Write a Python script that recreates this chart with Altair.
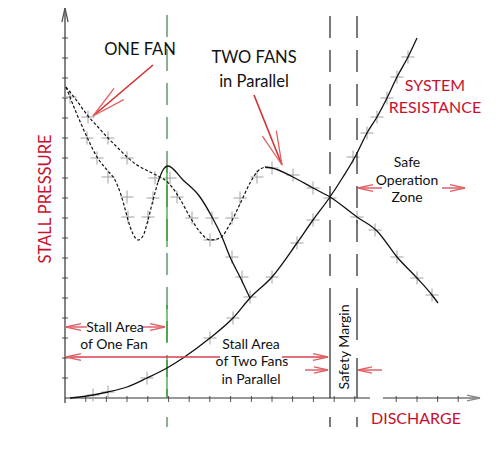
import math
import altair as alt
import pandas as pd

# ---------------- data (discharge q, pressure p) ----------------
one_fan_dash_q = [0.25, 2.75, 5.5, 8, 10.5, 12.5, 13.75, 14.75, 15.75, 17, 18.25, 19.5, 20.75, 22, 23.25]
one_fan_dash_p = [77.75, 71.5, 65.25, 60.25, 57, 54.5, 51.5, 48.25, 44.5, 41, 39.5, 40.5, 44.5, 49.5, 54]
one_fan_solid_q = [23.25, 24.5, 25.75, 29.5, 33.75, 36.75, 39.25, 41.25, 43.75, 46.25]
one_fan_solid_p = [54, 57, 58, 54.5, 50.25, 45.25, 40.25, 35.25, 30.25, 25]

two_fans_dash_q = [0.25, 3, 5.75, 8.25, 10.75, 13.25, 15.5, 18, 20.75, 23.25, 25, 26.75, 28.75,
                   31.25, 33.75, 36.25, 38.75, 41.25, 43.75, 46.25, 48, 50]
two_fans_dash_p = [77.75, 74.25, 70.5, 67.75, 65, 62.5, 60.25, 58.25, 56.75, 55.5, 54.5, 52.75, 49.75,
                   45.25, 41.5, 39.5, 40, 43.5, 48.5, 53.75, 56.5, 57.75]
two_fans_solid_q = [50, 51.75, 57, 62, 66.25, 73, 78, 83, 88, 91.75, 93.25]
two_fans_solid_p = [57.75, 57.5, 55.25, 52.5, 50.25, 45.25, 41.75, 35.25, 30, 25.75, 23.75]

system_q = [1.25, 7, 10.75, 15.5, 20.5, 25.5, 29.5, 36.25, 42, 46.25, 51.75, 58, 62, 66.25,
            69.5, 72.5, 75.5, 78, 80.5, 83, 85.75, 88]
system_p = [0, 0.75, 1.5, 2.75, 5, 7.5, 10, 15, 20, 25, 30.25, 38.75, 44.5, 50.25,
            55.25, 60.25, 66.25, 70.25, 75, 80.25, 85.25, 90]

cross_q = [1.25, 5.75, 5.5, 10.75, 8, 15.5, 10.75, 15.5, 15.75, 20.75, 22, 26.25, 22.5, 28, 31.75,
           36.75, 36.25, 41.75, 43.75, 48, 51.75, 57, 62, 66.25, 73, 77.5, 83, 88, 91.75, 41.75,
           44.25, 46.25, 51.75, 58, 62, 72, 75.5, 78, 80.5, 83, 85.75, 7, 10.75, 20.5, 36.25, 42]
cross_p = [75.25, 70.25, 65, 65, 60, 60, 55.25, 50.25, 45.25, 45.25, 50, 55, 55, 50.25, 45,
           45, 39.5, 45, 50, 55.25, 57.5, 55.75, 52.5, 50, 45.25, 42, 35.25, 30, 25.75, 35.25,
           30.25, 25.25, 30.25, 38.75, 44.5, 60.25, 66.25, 70.25, 75, 80.25, 85.25, 0.75, 1.5, 5, 15, 20]

# vertical marker lines (stall limits / safety margin)
marker_q = [25.5, 66.25, 73]
marker_colors = ["#3f7f3f", "#222222", "#222222"]

# arrows: tail -> tip
arrow_tail_q = [22, 47.25, 5.5, 19.25, 38.75, 54.25, 60, 79.25, 79.25, 94.25]
arrow_tail_p = [83.25, 75.75, 17.75, 17.75, 10.25, 10.25, 7, 7, 52.5, 52.5]
arrow_tip_q = [7, 54.25, 0.25, 25, 0.25, 65.75, 65.75, 73.25, 73.25, 100]
arrow_tip_p = [70.5, 58.25, 17.75, 17.75, 10.25, 10.25, 7, 7, 52.5, 52.5]
arrow_colors = ["#d32f2f", "#d32f2f", "#e06b78", "#e06b78", "#d84050", "#d84050",
                "#e06b78", "#e06b78", "#e06b78", "#e06b78"]
arrow_head_len = [34, 34, 15, 15, 15, 15, 14, 14, 15, 15]

x_tick_q = [5.2, 10.35, 15.5, 20.7, 25.9, 31.05, 36.2, 41.4, 46.6, 51.75, 56.9, 62.1, 67.3,
            72.45, 82.8, 88, 93.15, 98.3]
y_tick_p = [5, 10, 15, 20, 25, 30, 35, 40, 45, 50, 55, 60, 65, 70, 75, 80, 85, 90]

texts = ["ONE FAN", "TWO FANS", "in Parallel", "SYSTEM", "RESISTANCE", "Safe", "Operation", "Zone",
         "STALL PRESSURE", "DISCHARGE", "Stall Area", "of One Fan", "Stall Area", "of Two Fans",
         "in Parallel", "Safety Margin"]
text_q = [18.75, 47.25, 47.25, 92.5, 92.5, 85.5, 85.5, 85.5, -4.75, 87.75, 12.5, 12.25, 46.5, 46.75, 46.5, 70]
text_p = [87, 85, 79, 78, 72.5, 58.75, 54.25, 50, 49.75, -5.25, 17.5, 13.25, 13.25, 9, 4.5, 12.75]
text_size = [16.5, 16.5, 16.5, 16, 16, 14, 14, 14, 16.5, 16, 14, 14, 14, 14, 14, 14]
RED = "#c8102e"
text_color = ["#111", "#111", "#111", RED, RED, "#111", "#111", "#111", RED, RED,
              "#111", "#111", "#111", "#111", "#111", "#111"]
text_angle = [0, 0, 0, 0, 0, 0, 0, 0, 270, 0, 0, 0, 0, 0, 0, 270]

# ---------------- scales ----------------
xs = alt.Scale(domain=[-14.25, 106.75], nice=False, zero=False)
ys = alt.Scale(domain=[-16.75, 97.5], nice=False, zero=False)
PX = 4.0  # pixels per unit on both axes


def X(f):
    return alt.X(f, type="quantitative", scale=xs, axis=None)


def Y(f):
    return alt.Y(f, type="quantitative", scale=ys, axis=None)


def line_layer(q, p, dash=None, color="#111", width=1.3):
    kw = dict(interpolate="monotone", color=color, strokeWidth=width)
    if dash:
        kw["strokeDash"] = dash
    return alt.Chart(pd.DataFrame({"q": q, "p": p})).mark_line(**kw).encode(x=X("q"), y=Y("p"))


def seg_layer(rows, dash=None, width=1.2):
    df = pd.DataFrame(rows, columns=["q", "p", "q2", "p2", "c"])
    kw = dict(strokeWidth=width)
    if dash:
        kw["strokeDash"] = dash
    return alt.Chart(df).mark_rule(**kw).encode(
        x=X("q"), y=Y("p"), x2="q2:Q", y2="p2:Q", color=alt.Color("c:N", scale=None))


# axes
axis_rows = [
    [0, -1.25, 0, 97.5, "#333"],
    [0, 0, 76.25, 0, "#333"],
    [79.5, 0, 103.75, 0, "#333"],
]
tick_rows = [[q, 0.5, q, -1.0, "#555"] for q in x_tick_q] + [[-0.75, p, 0.75, p, "#555"] for p in y_tick_p]

# marker lines
dash_rows = [[marker_q[0], 95.75, marker_q[0], 0, marker_colors[0]],
             [marker_q[1], 95.5, marker_q[1], 23.25, marker_colors[1]],
             [marker_q[2], 95.5, marker_q[2], 23.25, marker_colors[2]]]
solid_rows = [[marker_q[0], 57.75, marker_q[0], 37.75, "#2e9a2e"],
              [marker_q[0], 23.25, marker_q[0], 14, "#2e9a2e"],
              [marker_q[0], 9.5, marker_q[0], 0, "#2e9a2e"],
              [marker_q[1], 23.25, marker_q[1], 0, "#222"],
              [marker_q[2], 23.25, marker_q[2], 14.5, "#222"],
              [marker_q[2], 10, marker_q[2], 0, "#222"]]
below_rows = [[q, -4.75, q, -7.25, c] for q, c in zip(marker_q, marker_colors)]

# arrows
shaft_rows = [[a, b, c, d, col] for a, b, c, d, col in
              zip(arrow_tail_q, arrow_tail_p, arrow_tip_q, arrow_tip_p, arrow_colors)]
head_df = pd.DataFrame({
    "q": arrow_tip_q + [0, 103.75],
    "p": arrow_tip_p + [97.5, 0],
    "angle": [math.degrees(math.atan2(-(tp - sp) * PX, (tq - sq) * PX)) % 360
              for sq, sp, tq, tp in zip(arrow_tail_q, arrow_tail_p, arrow_tip_q, arrow_tip_p)] + [270, 0],
    "size": [(2 * h) ** 2 for h in arrow_head_len] + [28 ** 2, 26 ** 2],
    "c": ["#e06060"] * len(arrow_tip_q) + ["#555", "#888"],
})
heads = alt.Chart(head_df).mark_point(
    shape="M -1 -0.22 L 0 0 L -1 0.22", filled=False, strokeWidth=1.3, opacity=1
).encode(x=X("q"), y=Y("p"), angle=alt.Angle("angle:Q", scale=None),
         size=alt.Size("size:Q", scale=None), color=alt.Color("c:N", scale=None))

crosses = alt.Chart(pd.DataFrame({"q": cross_q, "p": cross_p})).mark_point(
    shape="M -1 0 L 1 0 M 0 -1 L 0 1", filled=False, color="#a0a0a0", strokeWidth=1, size=170, opacity=1
).encode(x=X("q"), y=Y("p"))

text_df = pd.DataFrame({"t": texts, "q": text_q, "p": text_p, "s": text_size,
                        "c": text_color, "a": text_angle})
labels = alt.Chart(text_df).mark_text(font="Lato", align="center", baseline="middle").encode(
    x=X("q"), y=Y("p"), text="t:N", size=alt.Size("s:Q", scale=None),
    color=alt.Color("c:N", scale=None), angle=alt.Angle("a:Q", scale=None))

chart = alt.layer(
    seg_layer(tick_rows, width=1),
    seg_layer(axis_rows, width=1.2),
    crosses,
    seg_layer(dash_rows, dash=[22, 12], width=1.2),
    seg_layer(solid_rows, width=1.2),
    seg_layer(below_rows, width=1.2),
    line_layer(system_q, system_p),
    line_layer(one_fan_dash_q, one_fan_dash_p, dash=[3, 2], width=1.2),
    line_layer(one_fan_solid_q, one_fan_solid_p),
    line_layer(two_fans_dash_q, two_fans_dash_p, dash=[3, 2], width=1.2),
    line_layer(two_fans_solid_q, two_fans_solid_p),
    seg_layer(shaft_rows, width=1.6),
    heads,
    labels,
).properties(width=484, height=457, autosize="none", padding=0, background="white"
             ).configure_view(stroke=None)

chart.save("out.html", embed_options={"renderer": "svg", "actions": False})
